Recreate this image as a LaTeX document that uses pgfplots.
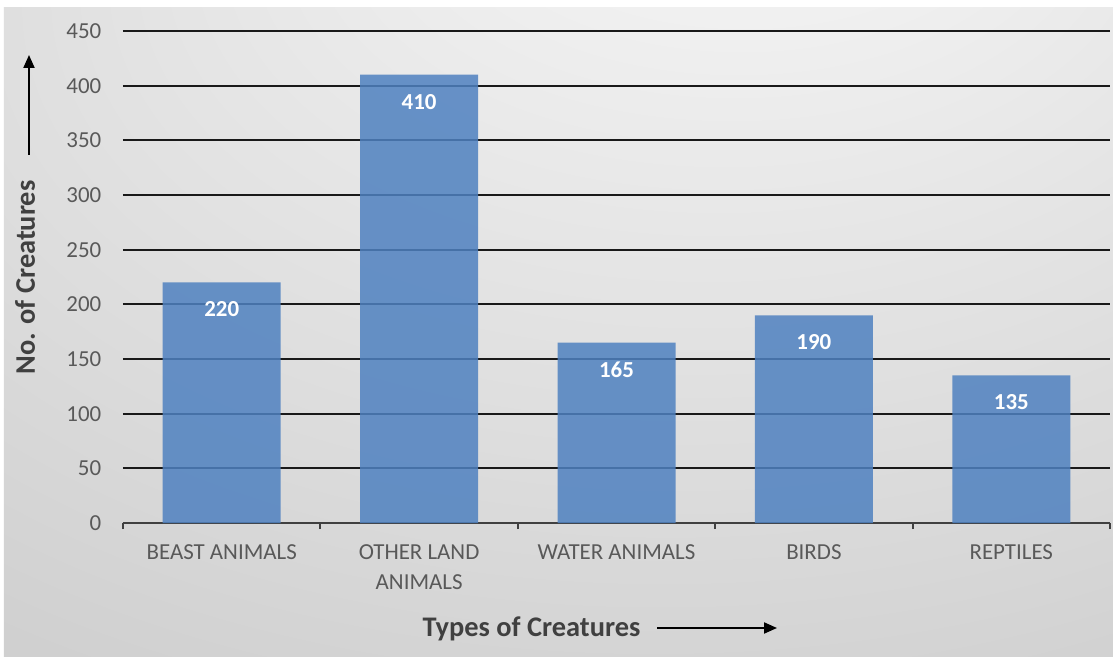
\documentclass[border=0pt]{standalone}
\usepackage{pgfplots}
\pgfplotsset{compat=1.18}
\usepackage{fontspec}
\setmainfont{Carlito}
\usetikzlibrary{arrows.meta}

\definecolor{barblue}{RGB}{79,129,192}
\definecolor{ticktext}{RGB}{89,89,89}
\definecolor{axisgray}{RGB}{64,64,64}
\definecolor{bgA}{RGB}{250,250,250}
\definecolor{bgB}{RGB}{228,228,228}
\definecolor{bgC}{RGB}{208,208,208}
\definecolor{bgD}{RGB}{196,196,196}

\pgfdeclareradialshading{bgshade}{\pgfpoint{10bp}{42bp}}{%
  color(0bp)=(bgA); color(25bp)=(bgB); color(48bp)=(bgC); color(75bp)=(bgD)}

\begin{document}
\begin{tikzpicture}
  % page is 1113 x 658 px, axis box corner sits at pixel (123,523)
  \useasboundingbox (-123bp,-135bp) rectangle (990bp,523bp);
  \fill[white] (-123bp,-135bp) rectangle (990bp,523bp);
  \shade[shading=bgshade] (-119bp,-133bp) rectangle (990bp,515bp);

  \begin{axis}[
      at={(0,0)}, anchor=south west,
      scale only axis,
      width=987bp, height=492bp,
      xmin=-0.5, xmax=4.5,
      ymin=0, ymax=450,
      ybar, bar width=118bp,
      axis x line*=bottom, axis y line*=left,
      y axis line style={draw=none},
      x axis line style={draw=axisgray, line width=2.5bp},
      xtick={0,...,4},
      xticklabels={BEAST ANIMALS, {OTHER LAND\\ANIMALS}, WATER ANIMALS, BIRDS, REPTILES},
      minor xtick={-0.5,0.5,...,4.5},
      major x tick style={draw=none},
      minor x tick style={draw=axisgray, line width=2bp},
      minor tick length=6bp,
      tick align=outside,
      ytick={0,50,...,450},
      major y tick style={draw=none},
      ymajorgrids,
      grid style={black!90, line width=1.8bp},
      /pgf/number format/assume math mode=true,
      tick label style={font=\fontsize{23}{30}\selectfont, text=ticktext},
      xticklabel style={align=center, yshift=-14bp},
      yticklabel style={xshift=-14bp},
      nodes near coords,
      every node near coord/.append style={
        font=\bfseries\fontsize{23}{23}\selectfont, text=white,
        anchor=center, yshift=-27bp},
    ]
    \addplot[fill=barblue, fill opacity=0.85, draw=none,
             text opacity=1]
      coordinates {(0,220) (1,410) (2,165) (3,190) (4,135)};
  \end{axis}

  % axis titles with their arrows
  \node[font=\bfseries\fontsize{28.5}{28.5}\selectfont, text=black!75, anchor=base]
    at (408.5bp,-113bp) {Types of Creatures};
  \draw[black, line width=2bp, -{Triangle[length=13bp,width=11bp]}]
    (534bp,-105bp) -- (654bp,-105bp);
  \node[font=\bfseries\fontsize{28.5}{28.5}\selectfont, text=black!75, rotate=90, anchor=base]
    at (-88bp,245.5bp) {No. of Creatures};
  \draw[black, line width=2bp, -{Triangle[length=13bp,width=11bp]}]
    (-94bp,368bp) -- (-94bp,468bp);
\end{tikzpicture}
\end{document}
